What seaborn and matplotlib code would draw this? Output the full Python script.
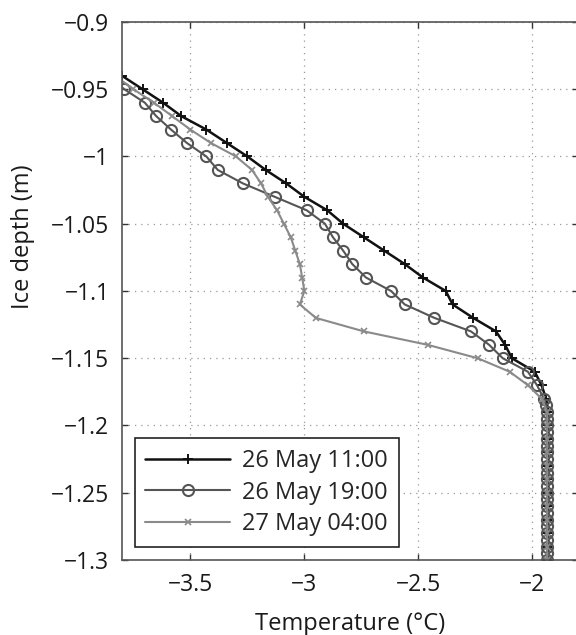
import matplotlib
matplotlib.use("Agg")
import matplotlib.pyplot as plt
import seaborn as sns
from matplotlib.ticker import FuncFormatter

# ----------------------
# Data
# ----------------------
depth_1100 = [-0.94, -0.95, -0.96, -0.97, -0.98, -0.99, -1.00, -1.01, -1.02, -1.03,
              -1.04, -1.05, -1.06, -1.07, -1.08, -1.09, -1.10, -1.11, -1.12, -1.13,
              -1.14, -1.15, -1.16, -1.17, -1.18, -1.19, -1.20, -1.21, -1.22, -1.23,
              -1.24, -1.25, -1.26, -1.27, -1.28, -1.29, -1.30]
temp_1100 = [-3.80, -3.71, -3.62, -3.54, -3.43, -3.34, -3.25, -3.17, -3.08, -3.00,
             -2.90, -2.83, -2.74, -2.65, -2.56, -2.48, -2.38, -2.35, -2.26, -2.16,
             -2.12, -2.09, -1.99, -1.96, -1.94, -1.93, -1.93, -1.93, -1.93, -1.93,
             -1.93, -1.93, -1.93, -1.93, -1.93, -1.93, -1.93]

depth_1900 = [-0.94, -0.95, -0.96, -0.97, -0.98, -0.99, -1.00, -1.01, -1.02, -1.03,
              -1.04, -1.05, -1.06, -1.07, -1.08, -1.09, -1.10, -1.11, -1.12, -1.13,
              -1.14, -1.15, -1.16, -1.17, -1.18, -1.185, -1.19, -1.195, -1.20, -1.205,
              -1.21, -1.215, -1.22, -1.225, -1.23, -1.235, -1.24, -1.245, -1.25, -1.255,
              -1.26, -1.265, -1.27, -1.275, -1.28, -1.285, -1.29, -1.295, -1.30]
temp_1900 = [-3.86, -3.79, -3.70, -3.65, -3.585, -3.515, -3.43, -3.38, -3.27, -3.13,
             -2.99, -2.91, -2.875, -2.83, -2.79, -2.73, -2.62, -2.56, -2.43, -2.27,
             -2.19, -2.13, -2.02, -1.98, -1.95, -1.94, -1.935, -1.935, -1.935, -1.935,
             -1.935, -1.935, -1.935, -1.935, -1.935, -1.935, -1.935, -1.935, -1.935, -1.935,
             -1.935, -1.935, -1.935, -1.935, -1.935, -1.935, -1.935, -1.935, -1.935]

depth_0400 = depth_1100
temp_0400 = [-3.83, -3.75, -3.66, -3.58, -3.50, -3.41, -3.30, -3.23, -3.19, -3.16,
             -3.12, -3.09, -3.06, -3.04, -3.02, -3.01, -3.00, -3.02, -2.95, -2.74,
             -2.46, -2.24, -2.10, -2.02, -1.96, -1.935, -1.935, -1.935, -1.935, -1.935,
             -1.935, -1.935, -1.935, -1.935, -1.935, -1.935, -1.935]

labels = ["26 May 11:00", "26 May 19:00", "27 May 04:00"]
x_ticks = [-3.5, -3, -2.5, -2]
y_ticks = [-0.9, -0.95, -1, -1.05, -1.1, -1.15, -1.2, -1.25, -1.3]

# ----------------------
# Plot settings
# ----------------------
sns.set_style("ticks")
plt.rcParams["font.family"] = ["Open Sans", "DejaVu Sans"]

fig = plt.figure(figsize=(5.76, 6.35), dpi=100)
ax = fig.add_axes([0.2118, 0.1181, 0.7917, 0.8473])

sns.lineplot(x=temp_1100, y=depth_1100, sort=False, estimator=None, ax=ax,
             color="#111111", linewidth=1.8, marker="+", markersize=7,
             markeredgewidth=1.4, markeredgecolor="#111111", label=labels[0])
sns.lineplot(x=temp_1900, y=depth_1900, sort=False, estimator=None, ax=ax,
             color="#555555", linewidth=1.5, marker="o", markersize=8,
             markerfacecolor="none", markeredgecolor="#555555",
             markeredgewidth=1.5, label=labels[1])
sns.lineplot(x=temp_0400, y=depth_0400, sort=False, estimator=None, ax=ax,
             color="#8a8a8a", linewidth=1.5, marker="x", markersize=5,
             markeredgewidth=1.2, markeredgecolor="#8a8a8a", label=labels[2])

ax.set_xlim(-3.8, -1.8)
ax.set_ylim(-1.3, -0.9)
ax.set_xticks(x_ticks)
ax.set_yticks(y_ticks)
fmt = FuncFormatter(lambda v, p: ("%g" % v).replace("-", "\u2212"))
ax.xaxis.set_major_formatter(fmt)
ax.yaxis.set_major_formatter(fmt)

ax.grid(True, linestyle=(0, (1, 4)), color="#999999", linewidth=0.9)
ax.tick_params(direction="in", top=True, right=True, length=4, width=1,
               labelsize=16.5, colors="#333333", labelcolor="#1a1a1a", pad=9)
for s in ax.spines.values():
    s.set_color("#555555")
    s.set_linewidth(1.2)

ax.set_xlabel("Temperature (\u00b0C)", fontsize=17, color="#1a1a1a", labelpad=11)
ax.set_ylabel("Ice depth (m)", fontsize=17, color="#1a1a1a")
ax.yaxis.set_label_coords(-0.19, 0.6)

leg = ax.legend(loc="lower left", bbox_to_anchor=(0.028, 0.024), borderaxespad=0,
                fontsize=17, handlelength=3.6, handletextpad=0.5,
                labelspacing=0.33, borderpad=0.45, frameon=True, fancybox=False)
leg.get_frame().set_edgecolor("#222222")
leg.get_frame().set_linewidth(1.2)
leg.get_frame().set_alpha(1)

fig.savefig("out.png", dpi=100)
